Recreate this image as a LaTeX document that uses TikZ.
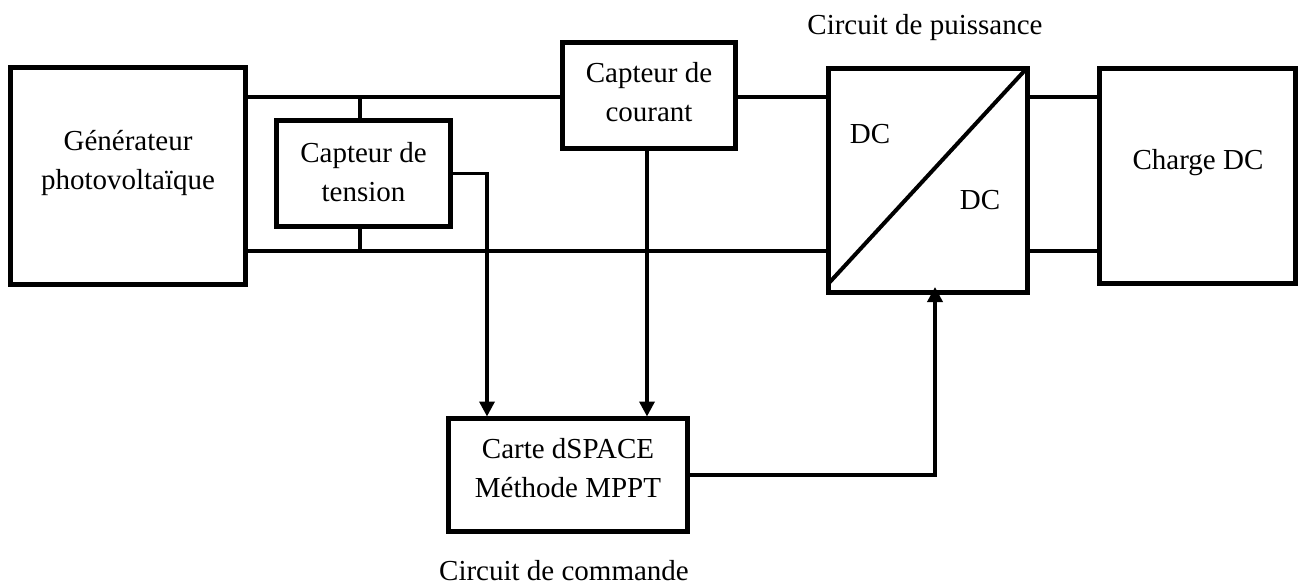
\documentclass[tikz,border=0pt]{standalone}
\usepackage{fontspec}
\setmainfont{Liberation Serif}
\usetikzlibrary{arrows.meta,calc}
\tikzset{
  box/.style={draw, line width=5pt, outer sep=0pt, inner sep=0pt},
  wire/.style={line width=3.5pt},
  sig/.style={line width=3.5pt, -{Triangle[width=15pt,length=15pt]}},
  txt/.style={align=center, inner sep=0pt, font=\fontsize{29}{39}\selectfont}
}
\begin{document}
\begin{tikzpicture}[x=1pt,y=-1pt]
\useasboundingbox (0,0) rectangle (1298,585);
% boxes
\node[box, minimum width=235pt, minimum height=217pt] (gen) at (128,176) {};
\node[box, minimum width=174pt, minimum height=106pt] (ten) at (363.5,173.5) {};
\node[box, minimum width=173pt, minimum height=106pt] (cour) at (649,95.5) {};
\node[box, minimum width=199pt, minimum height=224pt] (dc) at (928,180.5) {};
\node[box, minimum width=196pt, minimum height=215pt] (chg) at (1197.5,176) {};
\node[box, minimum width=239pt, minimum height=113pt] (dsp) at (568,475) {};
% texts
\node[txt] (gent) at (128,163) {Générateur\\photovoltaïque};
\node[txt] (tent) at (363.5,172) {Capteur de\\tension};
\node[txt] (court) at (649,92) {Capteur de\\courant};
\node[txt] (chgt) at (1198,163) {Charge DC};
\node[txt] (dspt) at (568,468) {Carte dSPACE\\Méthode MPPT};
\node[txt] (dc1) at (870,134) {DC};
\node[txt] (dc2) at (980,200) {DC};
\node[txt] (puis) at (925,28) {Circuit de puissance};
\node[txt] (comm) at (564,571) {Circuit de commande};
% helper coordinates
\coordinate (yt) at (0,97);
\coordinate (yb) at (0,251);
\coordinate (xs) at (360,0);
\coordinate (xv) at (487,0);
\coordinate (xc) at (647,0);
\coordinate (dcin) at (935,287);
% power wires
\draw[wire] (gen.east |- yt) -- (cour.west |- yt);
\draw[wire] (cour.east |- yt) -- (dc.west |- yt);
\draw[wire] (dc.east |- yt) -- (chg.west |- yt);
\draw[wire] (gen.east |- yb) -- (dc.west |- yb);
\draw[wire] (dc.east |- yb) -- (chg.west |- yb);
\draw[wire] (xs |- yt) -- (xs |- ten.north);
\draw[wire] (xs |- ten.south) -- (xs |- yb);
% converter diagonal
\draw[line width=4pt] ($(dc.south west)+(0,-9)$) -- ($(dc.north east)+(0,-1)$);
% signals
\draw[sig, shorten >=2pt] (ten.east) -| (xv |- dsp.north);
\draw[sig, shorten >=2pt] (xc |- cour.south) -- (xc |- dsp.north);
\draw[sig] (dsp.east) -| (dcin);
\end{tikzpicture}
\end{document}
